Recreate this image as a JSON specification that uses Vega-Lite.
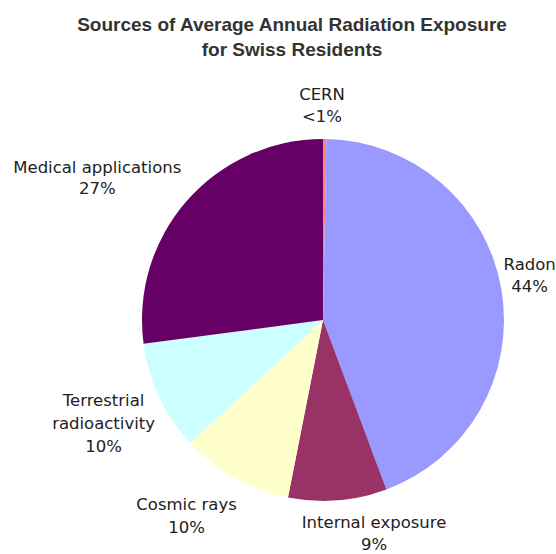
{
  "$schema": "https://vega.github.io/schema/vega-lite/v6.json",
  "autosize": {"type": "none"},
  "padding": {"left": 90, "top": 86, "right": 0, "bottom": 0},
  "width": 466,
  "height": 468,
  "background": "white",
  "config": {"view": {"stroke": null}},
  "title": {
    "text": ["Sources of Average Annual Radiation Exposure", "for Swiss Residents"],
    "font": "Liberation Sans",
    "fontSize": 19,
    "fontWeight": "bold",
    "color": "#333333",
    "lineHeight": 25,
    "anchor": "middle",
    "frame": "group",
    "dx": -31,
    "offset": -12
  },
  "data": {
    "values": [
      {"order": 1, "cat": "CERN", "value": 0.3, "label": "CERN\n<1%"},
      {"order": 2, "cat": "Radon", "value": 44, "label": "Radon\n44%"},
      {"order": 3, "cat": "Internal exposure", "value": 8.8, "label": "Internal exposure\n9%"},
      {"order": 4, "cat": "Cosmic rays", "value": 10, "label": "Cosmic rays\n10%"},
      {"order": 5, "cat": "Terrestrial radioactivity", "value": 9.8, "label": "Terrestrial\nradioactivity\n10%"},
      {"order": 6, "cat": "Medical applications", "value": 27.1, "label": "Medical applications\n27%"}
    ]
  },
  "encoding": {
    "theta": {"field": "value", "type": "quantitative", "stack": true},
    "order": {"field": "order", "type": "quantitative"},
    "detail": {"field": "cat", "type": "nominal"}
  },
  "layer": [
    {
      "mark": {"type": "arc", "outerRadius": 181},
      "encoding": {
        "color": {
          "field": "cat",
          "type": "nominal",
          "legend": null,
          "scale": {
            "domain": ["CERN", "Radon", "Internal exposure", "Cosmic rays", "Terrestrial radioactivity", "Medical applications"],
            "range": ["#FF7F7F", "#9999FF", "#993366", "#FFFFCC", "#CCFFFF", "#660066"]
          }
        }
      }
    },
    {
      "mark": {"type": "text", "radius": 215, "dx": -3, "dy": -10, "font": "DejaVu Sans", "fontSize": 16.5, "lineBreak": "\n", "lineHeight": 22, "align": "center", "baseline": "middle", "fill": "#222222"},
      "encoding": {"text": {"condition": {"test": "datum.cat === 'CERN'", "field": "label"}, "value": ""}}
    },
    {
      "mark": {"type": "text", "radius": 202.6, "dx": 7, "dy": -21, "font": "DejaVu Sans", "fontSize": 16.5, "lineBreak": "\n", "lineHeight": 22, "align": "center", "baseline": "middle", "fill": "#222222"},
      "encoding": {"text": {"condition": {"test": "datum.cat === 'Radon'", "field": "label"}, "value": ""}}
    },
    {
      "mark": {"type": "text", "radius": 221.3, "dx": 33, "dy": -18, "font": "DejaVu Sans", "fontSize": 16.5, "lineBreak": "\n", "lineHeight": 22, "align": "center", "baseline": "middle", "fill": "#222222"},
      "encoding": {"text": {"condition": {"test": "datum.cat === 'Internal exposure'", "field": "label"}, "value": ""}}
    },
    {
      "mark": {"type": "text", "radius": 237, "dx": -21, "dy": -22, "font": "DejaVu Sans", "fontSize": 16.5, "lineBreak": "\n", "lineHeight": 23, "align": "center", "baseline": "middle", "fill": "#222222"},
      "encoding": {"text": {"condition": {"test": "datum.cat === 'Cosmic rays'", "field": "label"}, "value": ""}}
    },
    {
      "mark": {"type": "text", "radius": 242.5, "dx": 0, "dy": -22, "font": "DejaVu Sans", "fontSize": 16.5, "lineBreak": "\n", "lineHeight": 23, "align": "center", "baseline": "middle", "fill": "#222222"},
      "encoding": {"text": {"condition": {"test": "datum.cat === 'Terrestrial radioactivity'", "field": "label"}, "value": ""}}
    },
    {
      "mark": {"type": "text", "radius": 264.2, "dx": -27, "dy": 22, "font": "DejaVu Sans", "fontSize": 16.5, "lineBreak": "\n", "lineHeight": 21, "align": "center", "baseline": "middle", "fill": "#222222"},
      "encoding": {"text": {"condition": {"test": "datum.cat === 'Medical applications'", "field": "label"}, "value": ""}}
    }
  ]
}
